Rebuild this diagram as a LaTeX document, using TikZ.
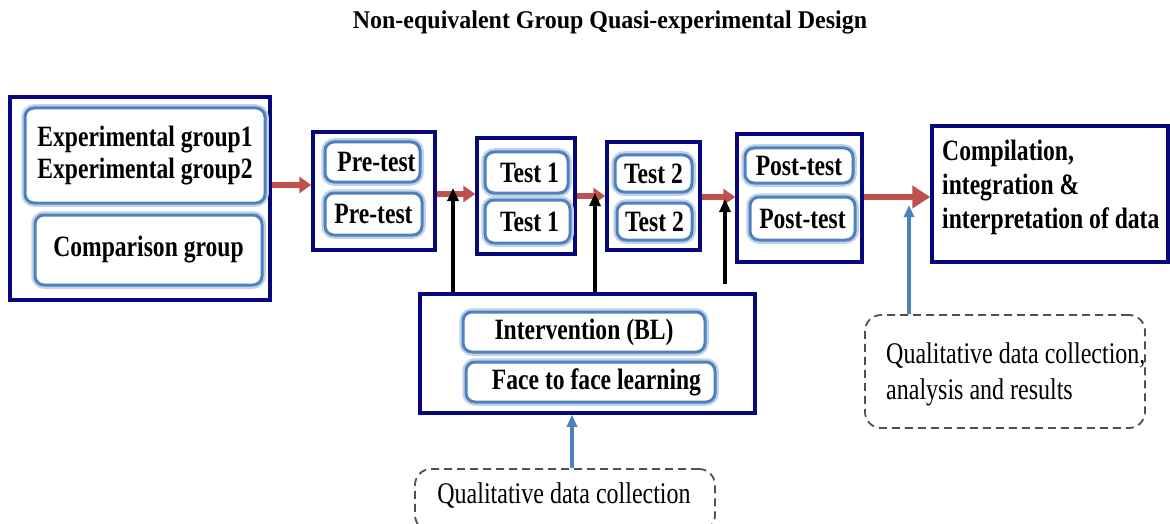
\documentclass[tikz,border=0pt]{standalone}
\usepackage{fontspec}
\setmainfont{Liberation Serif}[FakeStretch=0.8]
\newfontfamily\headfont{Liberation Serif}[FakeStretch=0.94]
\usetikzlibrary{arrows.meta,calc}
\definecolor{navy}{RGB}{8,8,125}
\definecolor{softblue}{RGB}{79,129,189}
\definecolor{flowred}{RGB}{192,80,77}
\definecolor{dashgray}{RGB}{80,80,80}
\begin{document}
\begin{tikzpicture}[x=1pt,y=-1pt,
  every node/.style={font=\fontsize{29.5}{32}\selectfont\bfseries, inner sep=0pt},
  outerbox/.style={draw=navy, line width=3.5pt, fill=white},
  innerbox/.style={preaction={draw=softblue!35, line width=7.5pt},
    draw=softblue, line width=3pt, fill=white, rounded corners=9pt},
  notebox/.style={draw=dashgray, line width=1.8pt, dash pattern=on 8pt off 5pt,
    rounded corners=16pt},
  notetext/.style={font=\fontsize{30}{36}\selectfont\mdseries},
  flow/.style={draw=flowred, line width=5.5pt, -{Triangle[length=12pt,width=16pt]}},
  bigflow/.style={draw=flowred, line width=6.5pt, -{Triangle[length=18pt,width=22pt]}},
  feed/.style={draw=black, line width=3.5pt, -{Triangle[length=13pt,width=11pt]}},
  qualarrow/.style={draw=softblue, line width=3.5pt, -{Triangle[length=12pt,width=10pt]}}]
\useasboundingbox (0,0) rectangle (1170,524);

% title
\node[font=\headfont\fontsize{25.5}{30}\selectfont\bfseries] (title) at (610,22)
  {Non-equivalent Group Quasi-experimental Design};

% groups
\node[outerbox, minimum width=260pt, minimum height=203pt] (A) at (140,198.5) {};
\node[innerbox, minimum width=240pt, minimum height=95pt, align=center] (A1) at (145,155.5)
  {Experimental group1\\Experimental group2};
\node[innerbox, minimum width=227pt, minimum height=70pt] (A2) at (148.5,250) {Comparison group\hspace{20pt}};

% pre-test
\node[outerbox, minimum width=122pt, minimum height=118pt] (B) at (374,191) {};
\node[innerbox, minimum width=95pt, minimum height=40pt] (B1) at (372.5,162) {\hspace{8pt}Pre-test};
\node[innerbox, minimum width=97pt, minimum height=42pt] (B2) at (373.5,214) {Pre-test};

% test 1
\node[outerbox, minimum width=98pt, minimum height=116pt] (C) at (526,196) {};
\node[innerbox, minimum width=83pt, minimum height=41pt] (C1) at (526.5,172.5) {\hspace{6pt}Test 1};
\node[innerbox, minimum width=85pt, minimum height=43pt] (C2) at (527.5,221.5) {\hspace{4pt}Test 1};

% test 2
\node[outerbox, minimum width=93pt, minimum height=108pt] (D) at (653.5,196) {};
\node[innerbox, minimum width=77pt, minimum height=37pt] (D1) at (653.5,173.5) {Test 2};
\node[innerbox, minimum width=75pt, minimum height=37pt] (D2) at (654.5,221.5) {Test 2};

% post-test
\node[outerbox, minimum width=125pt, minimum height=128pt] (E) at (799.5,198) {};
\node[innerbox, minimum width=108pt, minimum height=35pt] (E1) at (799,165.5) {Post-test\hspace{8pt}};
\node[innerbox, minimum width=105pt, minimum height=43pt] (E2) at (802.5,218.5) {Post-test};

% compilation
\node[outerbox, minimum width=236pt, minimum height=136pt] (F) at (1050,194) {};
\node[anchor=north west, align=left] (Ftext) at (942,140)
  {Compilation,\\[2pt]integration \&\\[2pt]interpretation of data};

% intervention
\node[outerbox, minimum width=335pt, minimum height=119pt] (G) at (587.5,353.5) {};
\node[innerbox, minimum width=242pt, minimum height=40pt] (G1) at (584,332) {Intervention (BL)};
\node[innerbox, minimum width=249pt, minimum height=40pt] (G2) at (590.5,382) {\hspace{12pt}Face to face learning};

% qualitative notes
\node[notebox, minimum width=300pt, minimum height=62pt] (H) at (565,500) {};
\node[notetext] (Htext) at (564,496) {Qualitative data collection};
\node[notebox, minimum width=280pt, minimum height=113pt] (I) at (1005,371.5) {};
\node[notetext, anchor=west, align=left] (Itext) at (886,374)
  {Qualitative data collection,\\analysis and results};

% main flow
\draw[flow] (A.east |- 0,185) -- (B.west |- 0,185);
\draw[flow] (B.east |- 0,194) -- (C.west |- 0,194);
\draw[flow] (C.east |- 0,196) -- (D.west |- 0,196);
\draw[flow] (D.east |- 0,197) -- (E.west |- 0,197);
\draw[bigflow] (E.east |- 0,197) -- (F.west |- 0,197);

% intervention feeding the flow
\coordinate (j1) at (453,188);
\coordinate (j2) at (595,193);
\coordinate (j3) at (725,199);
\draw[feed] (G.north -| j1) -- (j1);
\draw[feed] (G.north -| j2) -- (j2);
\draw[feed] ($(G.north -| j3)+(0,-8)$) -- (j3);

% qualitative inputs
\coordinate (j5) at (572,0);
\draw[qualarrow] (H.north -| j5) -- (G.south -| j5);
\coordinate (j4) at (909,205);
\draw[qualarrow] (I.north -| j4) -- (j4);
\end{tikzpicture}
\end{document}
